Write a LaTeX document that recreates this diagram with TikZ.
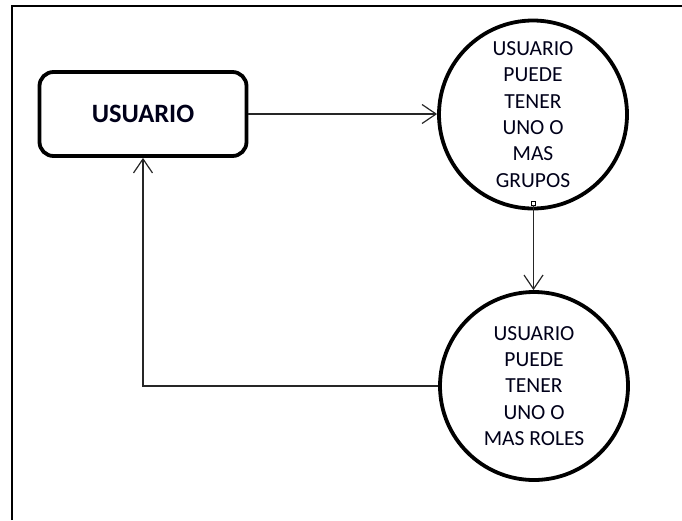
\documentclass[tikz,border=0pt]{standalone}
\usepackage{fontspec}
\setmainfont{Carlito}
\usetikzlibrary{arrows.meta}
\tikzset{
  every picture/.style={x=1pt,y=-1pt},
  frameline/.style={line width=1.4pt, black},
  userbox/.style={draw, line width=3.8pt, rounded corners=14pt, minimum width=207pt, minimum height=84pt, inner sep=0pt, font=\fontsize{26.5}{30}\selectfont\bfseries, text=black!90!blue},
  statecirc/.style={draw, circle, line width=3.8pt, minimum size=188pt, inner sep=0pt, align=center, font=\fontsize{21.5}{26.3}\selectfont, text=black!90!blue},
  tinysq/.style={draw, rectangle, line width=0.8pt, minimum size=4pt, inner sep=0pt},
  conn/.style={line width=1.2pt, black!85, -{Straight Barb[length=14pt,width=19pt,line width=1.2pt]}}
}
\begin{document}
\begin{tikzpicture}
\useasboundingbox (0,0) rectangle (682,520);
\draw[frameline] (12,520) -- (12,6) -- (682,6);
\node[userbox] (usr) at (143,114) {USUARIO};
\node[statecirc] (grp) at (533,114.5) {USUARIO\\PUEDE\\TENER\\UNO O\\MAS\\GRUPOS};
\node[statecirc] (rol) at (534,386) {USUARIO\\PUEDE\\TENER\\UNO O\\MAS ROLES};
\node[tinysq] (sq) at (533.5,203) {};
\draw[conn] (usr.east) -- (grp.west |- usr.east);
\draw[conn] (sq.south) -- (sq.south |- rol.north);
\draw[conn] (rol.west) -| (usr.south);
\end{tikzpicture}
\end{document}
